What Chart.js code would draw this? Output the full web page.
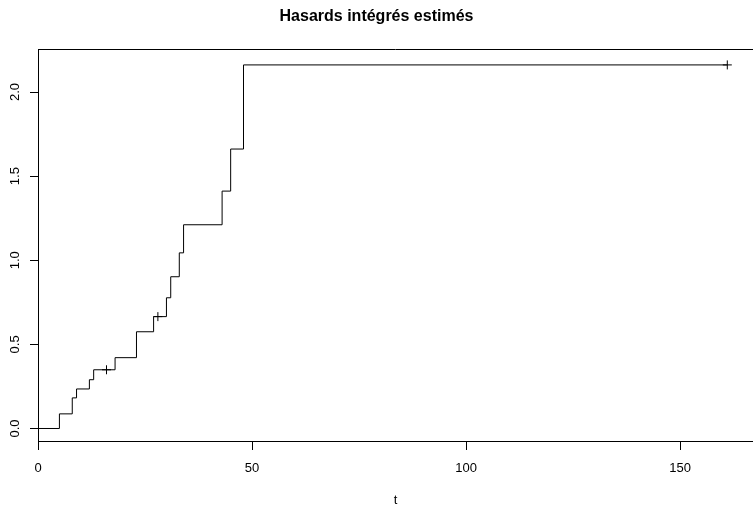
<!DOCTYPE html>
<html>
<head>
<meta charset="utf-8">
<script src="https://cdn.jsdelivr.net/npm/chart.js@4.4.1/dist/chart.umd.min.js"></script>
<style>
  html, body { margin: 0; padding: 0; background: #fff; overflow: hidden; }
  #wrap { width: 753px; height: 505px; }
</style>
</head>
<body>
<div id="wrap"><canvas id="myChart" width="753" height="505"></canvas></div>
<script>
// Nelson-Aalen estimate
var times = [0, 5, 8, 9, 12, 13, 18, 23, 27, 30, 31, 33, 34, 43, 45, 48, 161];
var hazard = [0, 0.087, 0.182, 0.235, 0.290, 0.349, 0.421, 0.575, 0.665, 0.777, 0.902, 1.044, 1.211, 1.411, 1.661, 2.161, 2.161];

// censored times (+ marks)
var censorTimes = [16, 28, 161];
var censorHazard = [0.349, 0.665, 2.161];

var xTicks = [0, 50, 100, 150];
var yTicks = [0, 0.5, 1, 1.5, 2];

var stepPoints = times.map(function (t, i) {
    return { x: t, y: hazard[i] };
});
var censorPoints = censorTimes.map(function (t, i) {
    return { x: t, y: censorHazard[i] };
});

var fontFam = '"Liberation Sans", Arial, Helvetica, sans-serif';

// top edge of the box (R draws a frame; right edge is off the picture)
var boxTop = {
    id: 'boxTop',
    afterDraw: function (chart) {
        var a = chart.chartArea;
        var c = chart.ctx;
        c.save();
        c.strokeStyle = '#000';
        c.lineWidth = 1;
        c.beginPath();
        c.moveTo(a.left, Math.round(a.top) + 0.5);
        c.lineTo(a.right, Math.round(a.top) + 0.5);
        c.stroke();
        c.restore();
    }
};

const ctx = document.getElementById('myChart');

new Chart(ctx, {
    type: 'line',
    data: {
        datasets: [{
            label: 'H(t)',
            data: stepPoints,
            stepped: 'before',
            borderColor: '#000',
            borderWidth: 1,
            pointRadius: 0,
            fill: false
        }, {
            type: 'scatter',
            label: 'censure',
            data: censorPoints,
            pointStyle: 'cross',
            pointRadius: 4.5,
            borderColor: '#000',
            borderWidth: 1,
            showLine: false
        }]
    },
    options: {
        responsive: false,
        animation: false,
        layout: { autoPadding: false, padding: { left: 0, right: 0, top: 0, bottom: 0 } },
        plugins: {
            legend: { display: false },
            tooltip: { enabled: false },
            title: {
                display: true,
                text: 'Hasards intégrés estimés',
                color: '#000',
                font: { family: fontFam, size: 16, weight: 'bold' },
                padding: { top: 6.5, bottom: 23.3 }
            }
        },
        scales: {
            x: {
                type: 'linear',
                min: 0,
                max: 167,
                afterBuildTicks: function (scale) {
                    scale.ticks = xTicks.map(function (v) { return { value: v }; });
                },
                afterFit: function (scale) { scale.height = 64; },
                border: { display: true, color: '#000', width: 1 },
                grid: { drawOnChartArea: false, drawTicks: true, tickLength: 9, color: '#000', lineWidth: 1 },
                ticks: {
                    color: '#000',
                    padding: 11,
                    maxRotation: 0,
                    font: { family: fontFam, size: 13 },
                    callback: function (v) { return String(v); }
                },
                title: {
                    display: true,
                    text: 't',
                    color: '#000',
                    font: { family: fontFam, size: 13 },
                    padding: { top: 0, bottom: -3 }
                }
            },
            y: {
                type: 'linear',
                min: -0.0743,
                max: 2.2556,
                afterBuildTicks: function (scale) {
                    scale.ticks = yTicks.map(function (v) { return { value: v }; });
                },
                afterFit: function (scale) { scale.width = 38; },
                border: { display: true, color: '#000', width: 1 },
                grid: { drawOnChartArea: false, drawTicks: true, tickLength: 8, color: '#000', lineWidth: 1 },
                ticks: {
                    color: '#000',
                    padding: 6,
                    minRotation: 90,
                    maxRotation: 90,
                    crossAlign: 'center',
                    font: { family: fontFam, size: 13 },
                    callback: function (v) { return v.toFixed(1); }
                }
            }
        }
    },
    plugins: [boxTop]
});
</script>
</body>
</html>
